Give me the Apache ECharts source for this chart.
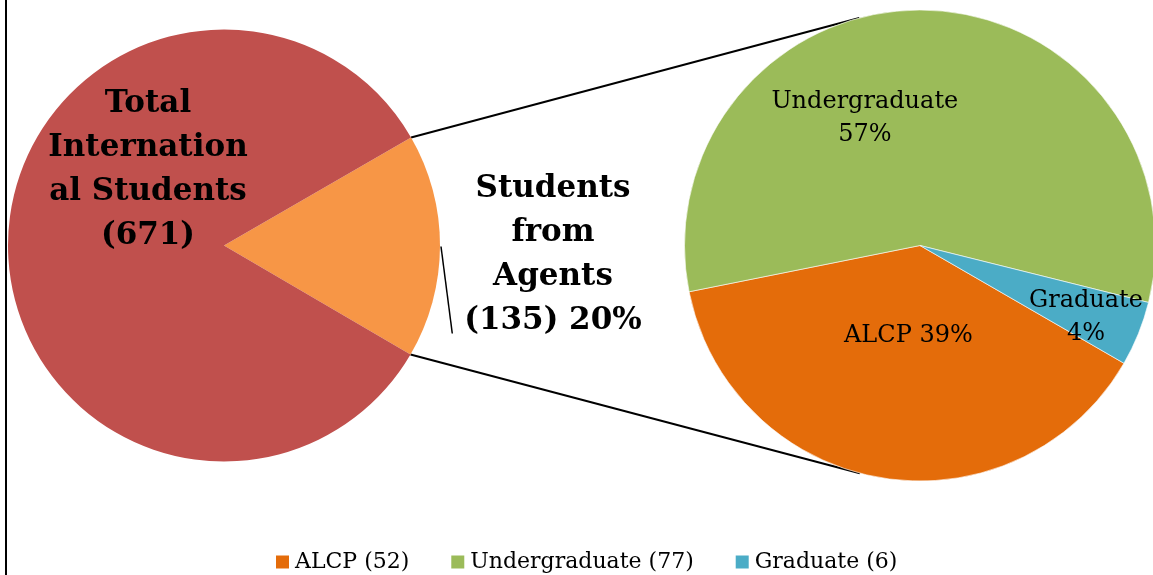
<!DOCTYPE html>
<html>
<head>
<meta charset="utf-8">
<script src="https://cdn.jsdelivr.net/npm/echarts@6/dist/echarts.min.js"></script>
<style>
  html, body { margin: 0; padding: 0; background: #fff; }
  #chart { width: 1153px; height: 575px; }
</style>
</head>
<body>
<div id="chart"></div>
<script>
// left pie: all international students vs. those from agents
const leftNames = ['Students from Agents', 'Total International Students'];
const leftValues = [135, 671];
const leftColors = ['#F79646', '#C0504D'];

// right pie: breakdown of students from agents
const rightNames = ['ALCP', 'Undergraduate', 'Graduate'];
const rightValues = [52, 77, 6];
const rightColors = ['#E46C0A', '#9BBB59', '#4BACC6'];

const FONT = '"DejaVu Serif", "Liberation Serif", serif';

// layout
const leftCenter = [224, 245.5];
const leftRadius = 216;
const leftStart = 30;
const rightCenter = [920, 245.5];
const rightRadius = 235.5;
const rightStart = -30;

// label nudges, Excel places these a bit differently than ECharts
const rightLabelOffsets = [[8, -29], [-58, -7], [54, 27]];

const rightTotal = rightValues.reduce((a, b) => a + b, 0);
const leftTotal = leftValues.reduce((a, b) => a + b, 0);

function edgePoint(center, r, deg) {
    const a = deg * Math.PI / 180;
    return [center[0] + r * Math.cos(a), center[1] - r * Math.sin(a)];
}

// tangent point on circle (c, r) seen from p; sign picks the side
function tangentPoint(p, c, r, sign) {
    const dx = p[0] - c[0], dy = p[1] - c[1];
    const d = Math.sqrt(dx * dx + dy * dy);
    const theta = Math.atan2(dy, dx);
    const alpha = Math.acos(r / d);
    const t = theta + sign * alpha;
    return [c[0] + r * Math.cos(t), c[1] + r * Math.sin(t)];
}

const agentSpan = leftValues[0] / leftTotal * 360;
const topLeft = edgePoint(leftCenter, leftRadius, leftStart);
const botLeft = edgePoint(leftCenter, leftRadius, leftStart - agentSpan);
const topRight = tangentPoint(topLeft, rightCenter, rightRadius, 1);
const botRight = tangentPoint(botLeft, rightCenter, rightRadius, -1);

const agentPct = Math.round(leftValues[0] / leftValues[1] * 100);

const leftData = [
    {
        name: leftNames[0],
        value: leftValues[0],
        itemStyle: { color: leftColors[0] },
        label: {
            position: 'outside',
            formatter: 'Students\nfrom\nAgents\n(' + leftValues[0] + ') ' + agentPct + '%'
        },
        labelLine: { show: true, lineStyle: { color: '#000', width: 1.5 } }
    },
    {
        name: leftNames[1],
        value: leftValues[1],
        itemStyle: { color: leftColors[1] },
        label: {
            position: 'inside',
            offset: [35, -75],
            formatter: 'Total\nInternation\nal Students\n(' + leftValues[1] + ')'
        },
        labelLine: { show: false }
    }
];

const rightData = rightNames.map((n, i) => {
    const pct = Math.round(rightValues[i] / rightTotal * 100);
    const text = n === 'ALCP' ? n + ' ' + pct + '%' : n + '\n' + pct + '%';
    return {
        name: n,
        value: rightValues[i],
        itemStyle: { color: rightColors[i] },
        label: { offset: rightLabelOffsets[i], formatter: text }
    };
});

const chart = echarts.init(document.getElementById('chart'));
chart.setOption({
    animation: false,
    backgroundColor: '#fff',
    legend: {
        data: rightNames,
        left: 274,
        top: 551,
        padding: 0,
        icon: 'rect',
        itemWidth: 15,
        itemHeight: 15,
        itemGap: 40,
        textStyle: { fontFamily: FONT, fontSize: 22, color: '#000' },
        formatter: name => name + ' (' + rightValues[rightNames.indexOf(name)] + ')'
    },
    graphic: [
        {
            type: 'line',
            shape: { x1: 6, y1: 0, x2: 6, y2: 575 },
            style: { stroke: '#000', lineWidth: 2 }
        },
        {
            type: 'line',
            shape: { x1: topLeft[0], y1: topLeft[1], x2: topRight[0], y2: topRight[1] },
            style: { stroke: '#000', lineWidth: 2 }
        },
        {
            type: 'line',
            shape: { x1: botLeft[0], y1: botLeft[1], x2: botRight[0], y2: botRight[1] },
            style: { stroke: '#000', lineWidth: 2 }
        }
    ],
    series: [
        {
            type: 'pie',
            center: leftCenter,
            radius: leftRadius,
            startAngle: leftStart,
            clockwise: true,
            avoidLabelOverlap: false,
            silent: true,
            label: {
                fontFamily: FONT,
                fontSize: 31,
                fontWeight: 'bold',
                lineHeight: 44,
                color: '#000',
                align: 'center'
            },
            labelLayout: params => {
                if (params.dataIndex !== 0) return {};
                const w = params.labelRect.width, h = params.labelRect.height;
                const x = leftCenter[0] + leftRadius + 113;
                const y = leftCenter[1] + 9;
                return {
                    x: x,
                    y: y,
                    align: 'center',
                    verticalAlign: 'middle',
                    labelLinePoints: [
                        [leftCenter[0] + leftRadius + 1, leftCenter[1] + 1],
                        [x - w / 2 - 12, y + h / 2 - 9]
                    ]
                };
            },
            data: leftData
        },
        {
            type: 'pie',
            center: rightCenter,
            radius: rightRadius,
            startAngle: rightStart,
            clockwise: true,
            avoidLabelOverlap: false,
            silent: true,
            itemStyle: { borderColor: '#fff', borderWidth: 0.6 },
            label: {
                position: 'inside',
                fontFamily: FONT,
                fontSize: 24,
                lineHeight: 33,
                color: '#000',
                align: 'center'
            },
            labelLine: { show: false },
            data: rightData
        }
    ]
});
</script>
</body>
</html>
